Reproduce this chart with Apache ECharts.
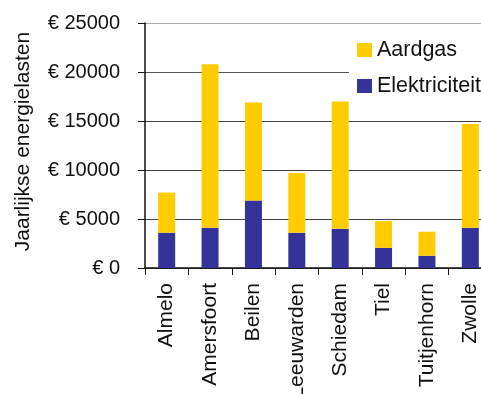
<!DOCTYPE html>
<html>
<head>
<meta charset="utf-8">
<script src="https://cdn.jsdelivr.net/npm/echarts@6/dist/echarts.min.js"></script>
<style>
  html, body { margin: 0; padding: 0; background: #fff; }
  #chart { width: 481px; height: 394px; }
</style>
</head>
<body>
<div id="chart"></div>
<script>
// Annual energy costs per town, split into electricity and natural gas (euro)
const towns = ['Almelo', 'Amersfoort', 'Beilen', 'Leeuwarden', 'Schiedam', 'Tiel', 'Tuitjenhorn', 'Zwolle'];
const elektriciteit = [3600, 4100, 6900, 3600, 4000, 2050, 1250, 4100];
const aardgas = [4100, 16700, 10000, 6100, 13000, 2750, 2450, 10600];
const yTicks = [0, 5000, 10000, 15000, 20000, 25000];

const FONT = "'Liberation Sans', Arial, Helvetica, sans-serif";
const chart = echarts.init(document.getElementById('chart'), null, { renderer: 'canvas' });

chart.setOption({
  animation: false,
  backgroundColor: '#fff',
  textStyle: { fontFamily: FONT },
  grid: {
    left: 145, top: 23, width: 347, height: 245,
    containLabel: false,
    outerBoundsMode: 'none'
  },
  legend: {
    orient: 'vertical',
    left: 349,
    top: 31,
    padding: [8, 8, 8, 8],
    backgroundColor: '#fff',
    itemWidth: 15,
    itemHeight: 14,
    itemGap: 14,
    icon: 'rect',
    data: ['Aardgas', 'Elektriciteit'],
    textStyle: { fontFamily: FONT, fontSize: 21.5, color: '#111' }
  },
  xAxis: {
    type: 'category',
    data: towns,
    boundaryGap: true,
    axisLine: { lineStyle: { color: '#111', width: 1.5 } },
    axisTick: { show: true, interval: 0, length: 7, lineStyle: { color: '#111' } },
    axisLabel: {
      interval: 0,
      rotate: 90,
      margin: 15,
      fontFamily: FONT,
      fontSize: 21,
      color: '#111'
    },
    splitLine: { show: false }
  },
  yAxis: {
    type: 'value',
    min: yTicks[0],
    max: yTicks[yTicks.length - 1],
    interval: 5000,
    name: 'Jaarlijkse energielasten',
    nameLocation: 'middle',
    nameRotate: 90,
    nameGap: 111,
    nameTextStyle: { fontFamily: FONT, fontSize: 21, color: '#111', padding: [0, 0, 0, 8] },
    axisLine: { show: true, lineStyle: { color: '#111', width: 1.5 } },
    axisTick: { show: true, length: 7, lineStyle: { color: '#111' } },
    axisLabel: {
      margin: 25,
      fontFamily: FONT,
      fontSize: 20,
      color: '#111',
      formatter: v => '€ ' + v
    },
    splitLine: {
      show: true,
      lineStyle: { color: ['#444', '#444', '#444', '#444', '#555', '#aaa'], width: 1.2 }
    }
  },
  series: [
    {
      name: 'Elektriciteit',
      type: 'bar',
      stack: 'kosten',
      data: elektriciteit,
      barWidth: 17,
      itemStyle: { color: '#333399' }
    },
    {
      name: 'Aardgas',
      type: 'bar',
      stack: 'kosten',
      data: aardgas,
      barWidth: 17,
      itemStyle: { color: '#FFCC00' }
    }
  ]
});
</script>
</body>
</html>
